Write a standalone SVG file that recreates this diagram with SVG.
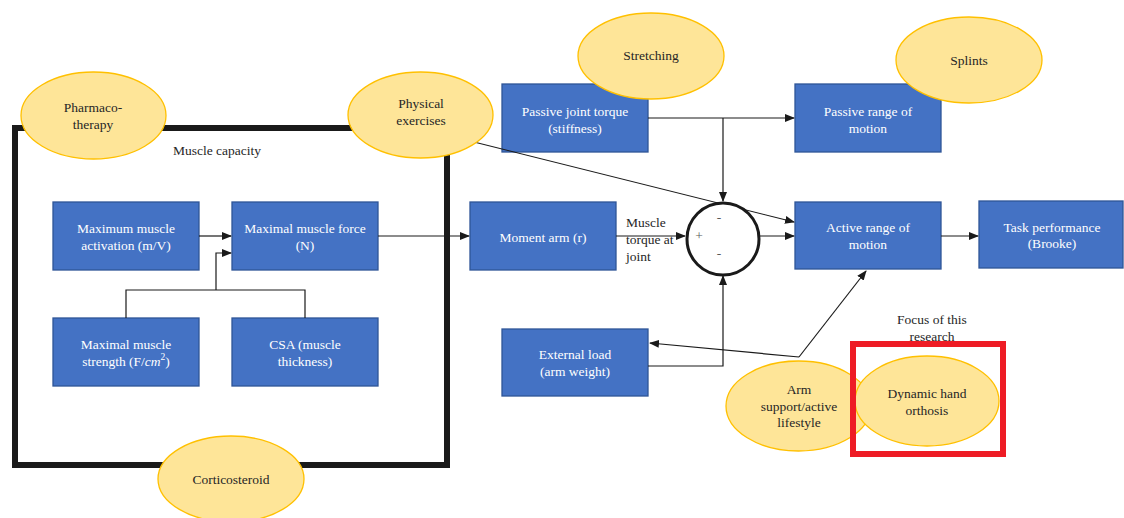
<svg xmlns="http://www.w3.org/2000/svg" width="1124" height="518" viewBox="0 0 1124 518">
<defs>
<marker id="ah" markerWidth="10" markerHeight="8" refX="9" refY="4" orient="auto" markerUnits="userSpaceOnUse">
<path d="M0,0 L10,4 L0,8 Z" fill="#1a1a1a"/>
</marker>
<style>
.box{fill:#4472C4;stroke:#2F5597;stroke-width:1.3}
.ell{fill:#FEE598;stroke:#FFC000;stroke-width:1.3}
.bt{font-family:"Liberation Serif","Times New Roman",serif;font-size:13.5px;fill:#ffffff;text-anchor:middle}
.et{font-family:"Liberation Serif","Times New Roman",serif;font-size:13.5px;fill:#262626;text-anchor:middle}
.lt{font-family:"Liberation Serif","Times New Roman",serif;font-size:13.5px;fill:#262626}
.sg{font-family:"Liberation Serif","Times New Roman",serif;font-size:13.5px;fill:#595959;text-anchor:middle}
.ln{fill:none;stroke:#1a1a1a;stroke-width:1.2}
.arr{fill:none;stroke:#1a1a1a;stroke-width:1.2;marker-end:url(#ah)}
</style>
</defs>
<rect width="1124" height="518" fill="#ffffff"/>

<g id="muscle-capacity-frame">
<rect x="15" y="128" width="432" height="337" fill="none" stroke="#1a1a1a" stroke-width="6"/>
<text class="lt" x="217" y="155" text-anchor="middle">Muscle capacity</text>
</g>

<g id="max-activation"><rect class="box" x="53" y="202" width="146" height="68"/>
<text class="bt" x="126" y="232.5">Maximum muscle</text><text class="bt" x="126" y="250">activation (m/V)</text></g>
<g id="max-force"><rect class="box" x="232" y="202" width="146" height="68"/>
<text class="bt" x="305" y="232.5">Maximal muscle force</text><text class="bt" x="305" y="250">(N)</text></g>
<g id="max-strength"><rect class="box" x="53" y="318" width="146" height="68"/>
<text class="bt" x="126" y="348.5">Maximal muscle</text><text class="bt" x="126" y="366">strength (F/<tspan font-style="italic">cm</tspan><tspan font-size="9.5px" dy="-6">2</tspan><tspan dy="6">)</tspan></text></g>
<g id="csa"><rect class="box" x="232" y="318" width="146" height="68"/>
<text class="bt" x="305" y="348.5">CSA (muscle</text><text class="bt" x="305" y="365.5">thickness)</text></g>
<g id="passive-torque"><rect class="box" x="502" y="84" width="146" height="68"/>
<text class="bt" x="575" y="115.5">Passive joint torque</text><text class="bt" x="575" y="132.5">(stiffness)</text></g>
<g id="moment-arm"><rect class="box" x="470" y="202" width="146" height="68"/>
<text class="bt" x="543" y="241.5">Moment arm (r)</text></g>
<g id="passive-rom"><rect class="box" x="795" y="84" width="146" height="68"/>
<text class="bt" x="868" y="115.5">Passive range of</text><text class="bt" x="868" y="132.5">motion</text></g>
<g id="active-rom"><rect class="box" x="795" y="202" width="146" height="67"/>
<text class="bt" x="868" y="232">Active range of</text><text class="bt" x="868" y="249">motion</text></g>
<g id="task-performance"><rect class="box" x="979" y="201" width="144" height="67"/>
<text class="bt" x="1052" y="231.5">Task performance</text><text class="bt" x="1052" y="248">(Brooke)</text></g>
<g id="external-load"><rect class="box" x="502" y="329" width="146" height="67"/>
<text class="bt" x="575" y="358.5">External load</text><text class="bt" x="575" y="375.5">(arm weight)</text></g>

<g id="connectors">
<path class="arr" d="M199,236 H231"/>
<path class="arr" d="M216,290 V253 H231"/>
<path class="ln" d="M126,318 V290 H305 V318"/>
<path class="arr" d="M378,236 H469"/>
<path class="arr" d="M616,236 H685"/>
<path class="arr" d="M648,118 H794"/>
<path class="arr" d="M723,118 V201"/>
<path class="arr" d="M648,366 H723 V276"/>
<path class="arr" d="M760,236 H794"/>
<path class="arr" d="M941,236 H978"/>
<path class="arr" d="M466,140 L794,222"/>
<path class="arr" d="M799,357 L650,343"/>
<path class="arr" d="M799,357 L866,271"/>
</g>

<g id="summing-junction">
<circle cx="723" cy="239" r="36" fill="#ffffff" stroke="#1a1a1a" stroke-width="3"/>
<text class="sg" x="699" y="240">+</text>
<text class="sg" x="719" y="222">-</text>
<text class="sg" x="719" y="258">-</text>
</g>
<g id="muscle-torque-label">
<text class="lt" x="626" y="227">Muscle</text><text class="lt" x="626" y="244">torque at</text><text class="lt" x="626" y="261">joint</text>
</g>

<g id="pharmacotherapy"><ellipse class="ell" cx="93.5" cy="115.5" rx="72.5" ry="43.5"/>
<text class="et" x="93" y="111.5">Pharmaco-</text><text class="et" x="93" y="128.5">therapy</text></g>
<g id="physical-exercises"><ellipse class="ell" cx="420.5" cy="115" rx="72.5" ry="43"/>
<text class="et" x="421" y="107.5">Physical</text><text class="et" x="421" y="124.5">exercises</text></g>
<g id="corticosteroid"><ellipse class="ell" cx="231" cy="479" rx="73" ry="43"/>
<text class="et" x="231" y="483.5">Corticosteroid</text></g>
<g id="stretching"><ellipse class="ell" cx="651" cy="56" rx="73" ry="43"/>
<text class="et" x="651" y="60">Stretching</text></g>
<g id="splints"><ellipse class="ell" cx="969" cy="60" rx="73" ry="43"/>
<text class="et" x="969" y="65">Splints</text></g>
<g id="arm-support"><ellipse class="ell" cx="798.5" cy="406" rx="72.5" ry="45"/>
<text class="et" x="799" y="393.5">Arm</text><text class="et" x="799" y="410.5">support/active</text><text class="et" x="799" y="427">lifestyle</text></g>
<g id="dynamic-hand-orthosis"><ellipse class="ell" cx="927" cy="401" rx="72" ry="45"/>
<text class="et" x="927" y="397.5">Dynamic hand</text><text class="et" x="927" y="414.5">orthosis</text></g>

<g id="focus">
<text class="et" x="932" y="323.5">Focus of this</text><text class="et" x="932" y="340.5">research</text>
<rect x="853" y="344" width="150" height="110" fill="none" stroke="#EE1C25" stroke-width="6"/>
</g>
</svg>
